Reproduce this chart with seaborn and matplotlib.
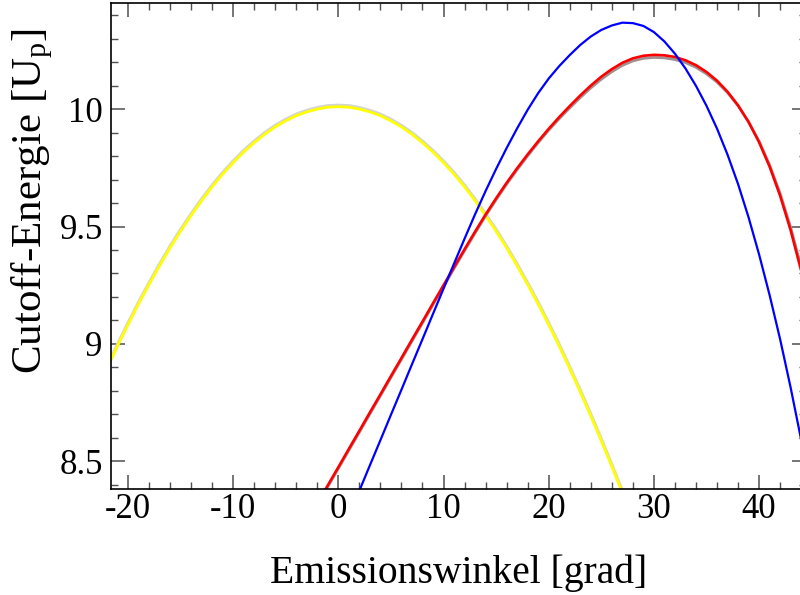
import matplotlib
matplotlib.use("Agg")
import matplotlib.pyplot as plt
from matplotlib.ticker import MultipleLocator, FuncFormatter
import seaborn as sns

# Emission angle grids (degrees)
angle_yellow = list(range(-22, 29))
angle_red = list(range(-2, 46))
angle_blue = list(range(0, 46))

# Cutoff energies in units of U_p
cutoff_yellow = [8.895, 8.991, 9.082, 9.170, 9.253, 9.333, 9.409, 9.480, 9.547,
                 9.610, 9.669, 9.723, 9.772, 9.817, 9.857, 9.893, 9.924, 9.950,
                 9.972, 9.988, 10.000, 10.008, 10.010, 10.008, 10.000, 9.988,
                 9.972, 9.950, 9.924, 9.893, 9.857, 9.817, 9.772, 9.723, 9.669,
                 9.610, 9.547, 9.480, 9.409, 9.333, 9.253, 9.170, 9.082, 8.991,
                 8.895, 8.796, 8.694, 8.588, 8.479, 8.367, 8.251]
cutoff_yellow_ref = [8.901, 8.997, 9.088, 9.176, 9.259, 9.339, 9.415, 9.486, 9.553,
                     9.616, 9.675, 9.729, 9.778, 9.823, 9.863, 9.899, 9.930, 9.956,
                     9.978, 9.994, 10.006, 10.014, 10.016, 10.014, 10.006, 9.994,
                     9.978, 9.956, 9.930, 9.899, 9.863, 9.823, 9.778, 9.729, 9.675,
                     9.616, 9.553, 9.486, 9.415, 9.339, 9.259, 9.176, 9.088, 8.997,
                     8.901, 8.802, 8.700, 8.594, 8.485, 8.373, 8.257]
cutoff_red = [8.320, 8.398, 8.475, 8.553, 8.630, 8.708, 8.785, 8.863, 8.940,
              9.018, 9.095, 9.173, 9.250, 9.327, 9.403, 9.478, 9.551, 9.620,
              9.686, 9.748, 9.807, 9.863, 9.916, 9.966, 10.013, 10.058, 10.100,
              10.138, 10.170, 10.197, 10.216, 10.227, 10.231, 10.229, 10.222,
              10.208, 10.187, 10.158, 10.121, 10.074, 10.016, 9.945, 9.859,
              9.755, 9.631, 9.484, 9.312, 9.114]
cutoff_gray = [8.314, 8.392, 8.469, 8.547, 8.624, 8.702, 8.779, 8.857, 8.934,
               9.012, 9.089, 9.167, 9.244, 9.321, 9.397, 9.472, 9.545, 9.614,
               9.680, 9.742, 9.801, 9.857, 9.910, 9.959, 10.005, 10.049, 10.090,
               10.127, 10.159, 10.186, 10.205, 10.216, 10.220, 10.218, 10.211,
               10.198, 10.178, 10.150, 10.115, 10.070, 10.014, 9.946, 9.863,
               9.762, 9.641, 9.497, 9.327, 9.131]
cutoff_blue = [8.160, 8.268, 8.375, 8.483, 8.590, 8.698, 8.805, 8.913, 9.020,
               9.128, 9.235, 9.342, 9.448, 9.552, 9.651, 9.745, 9.834, 9.918,
               9.997, 10.068, 10.130, 10.183, 10.230, 10.273, 10.309, 10.337,
               10.356, 10.368, 10.366, 10.354, 10.328, 10.288, 10.236, 10.173,
               10.099, 10.014, 9.917, 9.806, 9.681, 9.539, 9.381, 9.208, 9.020,
               8.814, 8.592, 8.354]

sns.set_style("ticks")
plt.rcParams["font.family"] = ["Liberation Serif", "DejaVu Serif"]
plt.rcParams["mathtext.fontset"] = "custom"
plt.rcParams["mathtext.rm"] = "Liberation Serif"
plt.rcParams["mathtext.it"] = "Liberation Serif:italic"
plt.rcParams["axes.unicode_minus"] = False
plt.rcParams["text.color"] = "black"
plt.rcParams["axes.labelcolor"] = "black"
plt.rcParams["xtick.color"] = "black"
plt.rcParams["ytick.color"] = "black"

fig = plt.figure(figsize=(8.0, 5.95), dpi=100)
ax = fig.add_axes([111 / 800, 105.7 / 595, 695 / 800, 486.6 / 595])

line_kw = dict(ax=ax, sort=False, estimator=None)
sns.lineplot(x=angle_yellow, y=cutoff_yellow_ref, color="#d4d4d4", linewidth=2.4, **line_kw)
sns.lineplot(x=angle_yellow, y=cutoff_yellow, color="#ffff00", linewidth=2.0, **line_kw)
sns.lineplot(x=angle_red, y=cutoff_gray, color="#a09090", linewidth=2.0, **line_kw)
sns.lineplot(x=angle_red, y=cutoff_red, color="#ff0000", linewidth=1.9, **line_kw)
sns.lineplot(x=angle_blue, y=cutoff_blue, color="#0000ff", linewidth=1.6, **line_kw)

ax.set_xlim(-21.61, 44.46)
ax.set_ylim(8.381, 10.453)

ax.xaxis.set_major_locator(MultipleLocator(10))
ax.xaxis.set_minor_locator(MultipleLocator(2))
ax.yaxis.set_major_locator(MultipleLocator(0.5))
ax.yaxis.set_minor_locator(MultipleLocator(0.1))
ax.yaxis.set_major_formatter(FuncFormatter(lambda v, p: "%g" % v))
ax.xaxis.set_major_formatter(FuncFormatter(lambda v, p: "%g" % v))

ax.tick_params(which="both", direction="in", top=True, right=True,
               color="#505050", labelsize=25, labelcolor="black")
ax.tick_params(which="major", length=10, width=1.1)
ax.tick_params(which="minor", length=5, width=1.0)
ax.tick_params(axis="x", which="major", pad=3)
ax.tick_params(axis="y", which="major", pad=6)

for side in ["left", "bottom", "top", "right"]:
    ax.spines[side].set_visible(True)
    ax.spines[side].set_color("black")
    ax.spines[side].set_linewidth(1.2)

ax.set_xlabel("Emissionswinkel [grad]", fontsize=28.5, labelpad=20, color="black")
ax.set_ylabel("Cutoff-Energie [U$_\\mathrm{p}$]", fontsize=31, color="black")
ax.yaxis.set_label_coords(-0.081, 0.5925)

fig.savefig("out.png", dpi=100, facecolor="white")
